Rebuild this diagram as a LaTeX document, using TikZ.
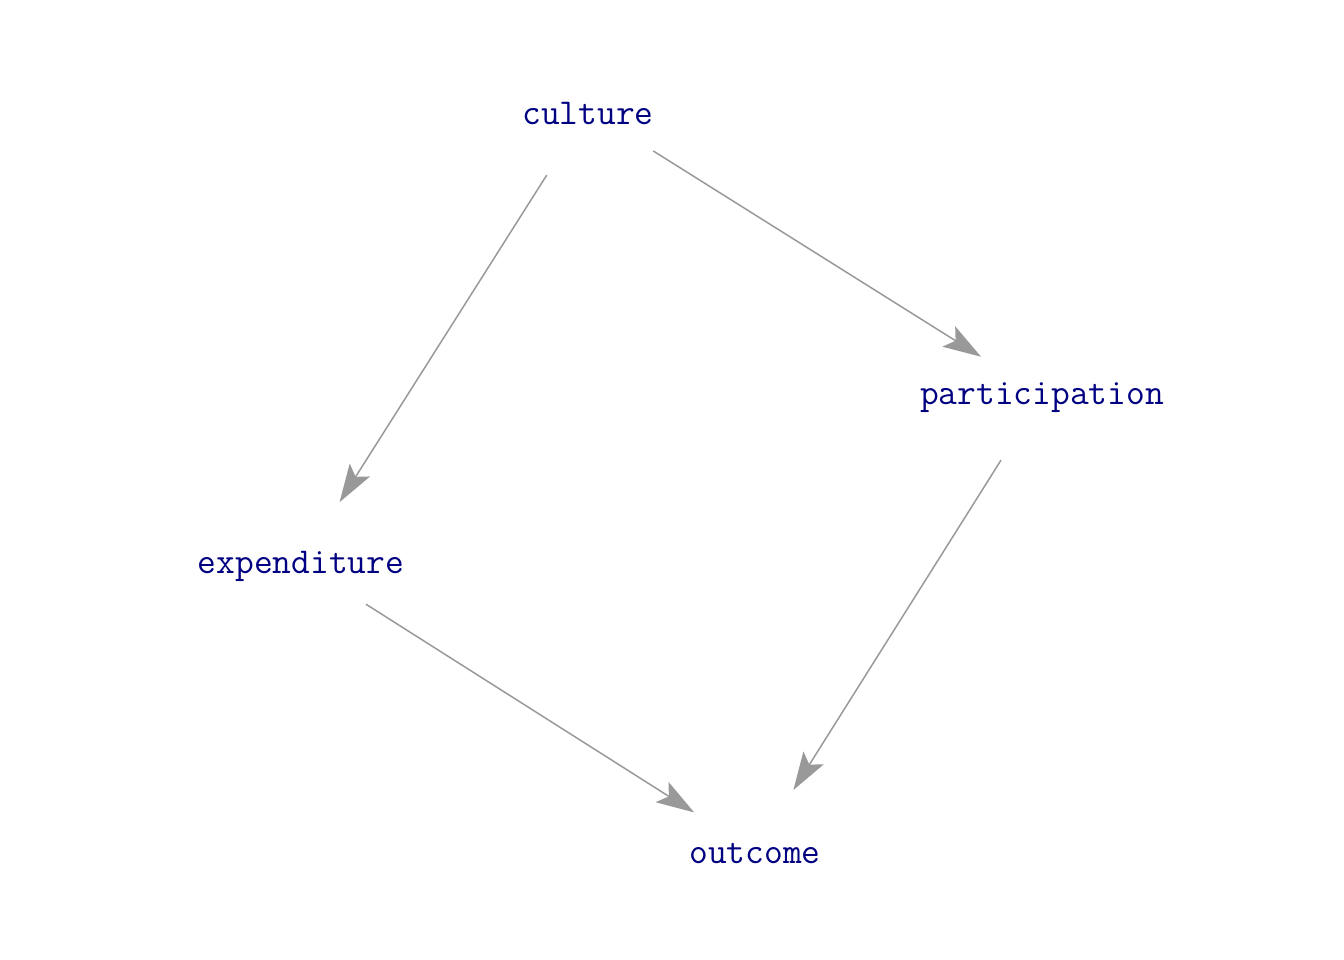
\documentclass[tikz,border=0pt]{standalone}
\usepackage{fontspec}
\usetikzlibrary{arrows.meta}
\definecolor{navytxt}{RGB}{0,0,128}
\definecolor{edgegray}{RGB}{153,153,153}
\tikzset{
  var/.style={text=navytxt, font=\ttfamily\fontsize{36.4}{38}\selectfont, inner sep=0pt, anchor=center},
  link/.style={draw=edgegray, line width=1.5pt, shorten <=77pt, shorten >=72pt,
    -{Stealth[length=38pt, width=24pt, inset=8pt]}}
}
\begin{document}
\begin{tikzpicture}[x=1pt, y=-1pt]
\useasboundingbox (0,0) rectangle (1344,960);
\node[var] (culture) at (588,113) {culture};
\node[var] (participation) at (1042,398) {participation};
\node[var] (expenditure) at (301,566) {expenditure};
\node[var] (outcome) at (755,854) {outcome};
\draw[link] ([yshift=3pt]culture.center) -- ([yshift=3pt]expenditure.center);
\draw[link] ([yshift=3pt]culture.center) -- ([yshift=3pt]participation.center);
\draw[link] ([yshift=3pt]participation.center) -- ([yshift=3pt]outcome.center);
\draw[link] ([yshift=3pt]expenditure.center) -- ([yshift=3pt]outcome.center);
\end{tikzpicture}
\end{document}
